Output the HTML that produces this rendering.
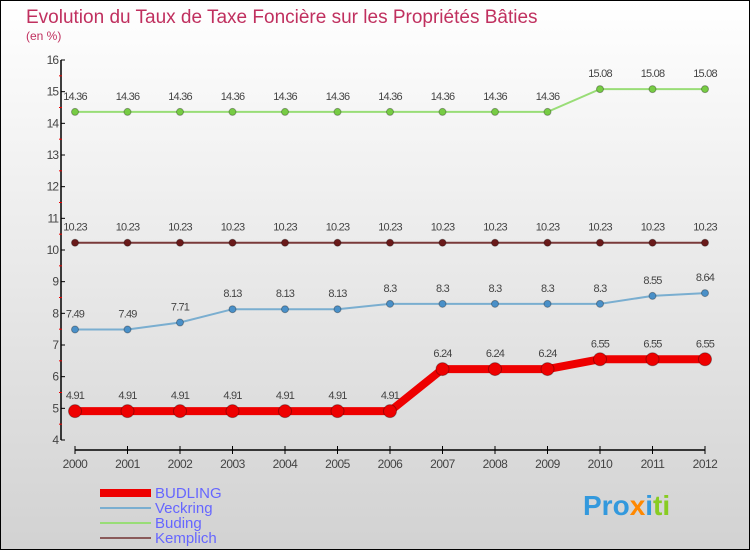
<!DOCTYPE html>
<html><head><meta charset="utf-8"><style>
body{margin:0}
#c{position:relative;width:748px;height:548px;border:1px solid #000;background:linear-gradient(#fff,#d2d2d2);font-family:"Liberation Sans",sans-serif;overflow:hidden}
</style></head><body>
<div id="c">
<svg width="748" height="548" style="position:absolute;left:-1px;top:-1px" id="svg">
<text x="26" y="23" font-size="19" fill="#c0305f">Evolution du Taux de Taxe Foncière sur les Propriétés Bâties</text>
<text x="26" y="40" font-size="12" fill="#c0305f">(en %)</text>
<g id="axes"></g><g id="series"></g>
<g>
<rect x="100" y="489" width="51" height="8" fill="#e00"/>
<text x="155" y="498" font-size="15" fill="#6666ff">BUDLING</text>
<line x1="100" y1="508" x2="151" y2="508" stroke="#7aaed0" stroke-width="2"/>
<text x="155" y="513" font-size="15" fill="#6666ff">Veckring</text>
<line x1="100" y1="523" x2="151" y2="523" stroke="#99dd77" stroke-width="2"/>
<text x="155" y="528" font-size="15" fill="#6666ff">Buding</text>
<line x1="100" y1="538" x2="151" y2="538" stroke="#8a5a5a" stroke-width="2"/>
<text x="155" y="543" font-size="15" fill="#6666ff">Kemplich</text>
</g>
<text x="583" y="515" font-size="28" font-weight="bold"><tspan fill="#3399dd">Pro</tspan><tspan fill="#ff8800">x</tspan><tspan fill="#3399dd">i</tspan><tspan fill="#88cc22">ti</tspan></text>
</svg>
</div>
<script>
const years=[2000,2001,2002,2003,2004,2005,2006,2007,2008,2009,2010,2011,2012];
const budling=[4.91,4.91,4.91,4.91,4.91,4.91,4.91,6.24,6.24,6.24,6.55,6.55,6.55];
const veckring=[7.49,7.49,7.71,8.13,8.13,8.13,8.3,8.3,8.3,8.3,8.3,8.55,8.64];
const buding=[14.36,14.36,14.36,14.36,14.36,14.36,14.36,14.36,14.36,14.36,15.08,15.08,15.08];
const kemplich=[10.23,10.23,10.23,10.23,10.23,10.23,10.23,10.23,10.23,10.23,10.23,10.23,10.23];
const yTicks=[4,5,6,7,8,9,10,11,12,13,14,15,16];
const NS="http://www.w3.org/2000/svg";
const x=i=>75+i*(630/(years.length-1));
const y=v=>440-(v-4)*(380/12);
function mk(p,t,a){const e=document.createElementNS(NS,t);for(const k in a)e.setAttribute(k,a[k]);p.appendChild(e);return e;}
const ax=document.getElementById('axes');
let l=mk(ax,'line',{x1:61,y1:60,x2:61,y2:440,stroke:'#000','stroke-width':1.5});


yTicks.forEach(v=>{
 mk(ax,'line',{x1:61,x2:65,y1:y(v),y2:y(v),stroke:'#000'});
 if(v<16)mk(ax,'line',{x1:59,x2:62,y1:y(v+0.5),y2:y(v+0.5),stroke:'#e00'});
 const t=mk(ax,'text',{x:58,y:y(v)+4,'font-size':12,fill:'#444','text-anchor':'end','letter-spacing':'-1'});
 t.textContent=v;
 
 
});
l=mk(ax,'line',{x1:75,y1:450,x2:705,y2:450,stroke:'#000','stroke-width':1.5});


years.forEach((yr,i)=>{
 mk(ax,'line',{x1:x(i),x2:x(i),y1:446,y2:454,stroke:'#000'});
 const t=mk(ax,'text',{x:x(i),y:468,'font-size':12,fill:'#444','text-anchor':'middle','letter-spacing':'-0.5'});
 t.textContent=yr;
 
 
});
const sg=document.getElementById('series');
function series(name,d,col,dot,w,r){
 const g=mk(sg,'g',{});
 
 
 const pl=mk(g,'polyline',{points:d.map((v,i)=>x(i)+','+y(v)).join(' '),fill:'none',stroke:col,'stroke-width':w});
 
 
 d.forEach((v,i)=>{
  const c=mk(g,'circle',{cx:x(i),cy:y(v),r:r,fill:dot,stroke:'rgba(0,0,0,0.3)'});
  
  
  const t=mk(g,'text',{x:x(i),y:y(v)-12,'font-size':11,fill:'#444','text-anchor':'middle','letter-spacing':'-0.8'});
  t.textContent=v;
  
  
 });
}
series('buding',buding,'#99dd77','#77cc44',2,3.5);
series('kemplich',kemplich,'#7a3a3a','#6a1a1a',2,3.5);
series('veckring',veckring,'#7aaed0','#4a90c8',2,3.5);
series('budling',budling,'#e00','#e00',8,6.5);
</script>
</body></html>
